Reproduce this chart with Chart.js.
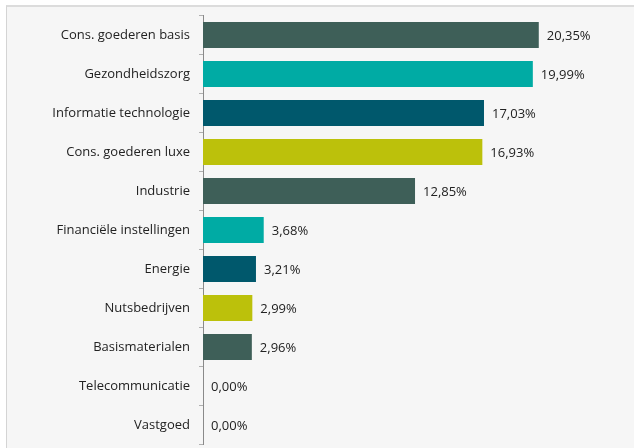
<!DOCTYPE html>
<html>
<head>
<meta charset="utf-8">
<script src="https://cdn.jsdelivr.net/npm/chart.js@4.4.1/dist/chart.umd.min.js"></script>
<style>
    html, body { margin: 0; padding: 0; background: #ffffff; overflow: hidden; }
    #panel {
        position: absolute; left: 6px; top: 5px; width: 627px; height: 441px;
        background: #f6f6f6; border-left: 1px solid #d4d4d4; border-top: 2px solid #dcdcdc;
    }
    #wrap { position: absolute; left: 0; top: 0; width: 634px; height: 448px; }
</style>
</head>
<body>
<div id="panel"></div>
<div id="wrap"><canvas id="sector-chart"></canvas></div>
<script>
// Sectorverdeling
const sectors = ['Cons. goederen basis', 'Gezondheidszorg', 'Informatie technologie', 'Cons. goederen luxe',
    'Industrie', 'Financiële instellingen', 'Energie', 'Nutsbedrijven', 'Basismaterialen',
    'Telecommunicatie', 'Vastgoed'];
const weights = [20.35, 19.99, 17.03, 16.93, 12.85, 3.68, 3.21, 2.99, 2.96, 0.00, 0.00];
const palette = ['#3e5f58', '#00aba4', '#00586c', '#bcc10b'];

const FONT = "'Open Sans', sans-serif";

// waarde naast elke balk
const valueLabels = {
    id: 'valueLabels',
    afterDatasetsDraw(chart) {
        const ctx = chart.ctx;
        const meta = chart.getDatasetMeta(0);
        ctx.save();
        ctx.font = '13px ' + FONT;
        ctx.fillStyle = '#222222';
        ctx.textAlign = 'left';
        ctx.textBaseline = 'middle';
        meta.data.forEach((bar, i) => {
            const txt = weights[i].toFixed(2).replace('.', ',') + '%';
            ctx.fillText(txt, bar.x + 8, bar.y + 1);
        });
        ctx.restore();
    }
};

new Chart(document.getElementById('sector-chart'), {
    type: 'bar',
    data: {
        labels: sectors,
        datasets: [{
            data: weights,
            backgroundColor: sectors.map((s, i) => palette[i % palette.length]),
            barPercentage: 0.67,
            categoryPercentage: 1
        }]
    },
    options: {
        indexAxis: 'y',
        responsive: true,
        maintainAspectRatio: false,
        animation: false,
        layout: { padding: { top: 15.5, bottom: 3.5, right: 18.5, left: 0 } },
        scales: {
            x: { display: false, min: 0, max: 25 },
            y: {
                afterFit(scale) {
                    scale.width = 203;
                    scale.paddingTop = 0;
                    scale.paddingBottom = 0;
                },
                border: { color: '#8a8a8a', width: 1 },
                grid: { offset: true, drawOnChartArea: false, tickLength: 4, color: '#b0b0b0' },
                ticks: { padding: 9, color: '#222222', font: { size: 13, family: FONT } }
            }
        },
        plugins: {
            legend: { display: false },
            tooltip: { enabled: false }
        }
    },
    plugins: [valueLabels]
});
</script>
</body>
</html>
